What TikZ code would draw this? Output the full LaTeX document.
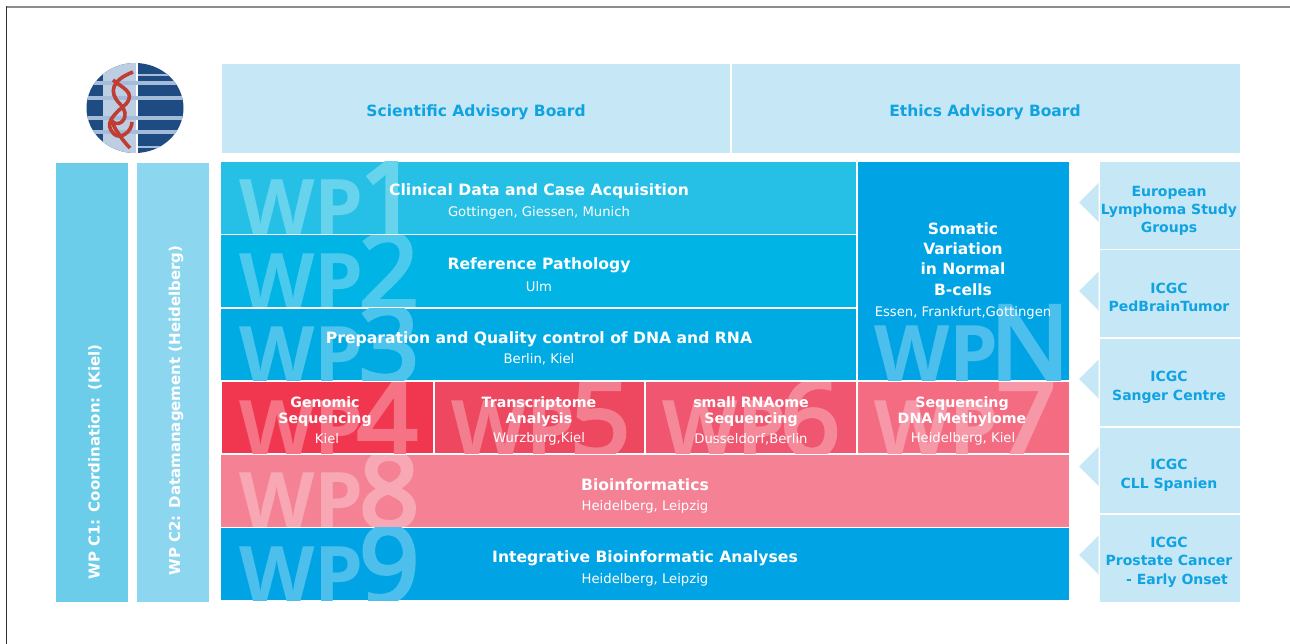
\documentclass[tikz,border=0pt]{standalone}
\usepackage{fontspec}
\setmainfont{DejaVu Sans}
\newfontfamily\wmfont[FakeBold=4]{Open Sans}
\newfontfamily\wpfont{Open Sans}
\definecolor{lb}{HTML}{C5E7F6}
\definecolor{tb}{HTML}{0FA3E2}
\definecolor{cA}{HTML}{6CCDEA}
\definecolor{cB}{HTML}{8DD6EF}
\definecolor{w1}{HTML}{26C0E6}
\definecolor{w2}{HTML}{00B4E5}
\definecolor{w3}{HTML}{00ABE4}
\definecolor{wN}{HTML}{00A4E4}
\definecolor{w4}{HTML}{F1374F}
\definecolor{w5}{HTML}{EE4760}
\definecolor{w6}{HTML}{F0566F}
\definecolor{w7}{HTML}{F46C82}
\definecolor{w8}{HTML}{F48294}
\definecolor{w9}{HTML}{00A4E4}
\definecolor{gd}{HTML}{1D4B82}
\definecolor{gs}{HTML}{A4BBDA}
\definecolor{gp}{HTML}{BDCDE2}
\definecolor{gr}{HTML}{BF3D33}
\tikzset{
  x=1pt,y=-1pt,
  ttl/.style={text=white,font=\fontsize{15.6}{18}\selectfont\bfseries,align=center,inner sep=0pt},
  ttlfour/.style={text=white,font=\fontsize{14.2}{16}\selectfont\bfseries,align=center,inner sep=0pt},
  sub/.style={text=white,font=\fontsize{13.2}{15}\selectfont,align=center,inner sep=0pt},
  ext/.style={text=tb,font=\fontsize{14}{18}\selectfont\bfseries,align=center,inner sep=0pt},
  adv/.style={text=tb,font=\fontsize{15.5}{18}\selectfont\bfseries,inner sep=0pt},
  vert/.style={text=white,font=\fontsize{15}{18}\selectfont\bfseries,rotate=90,inner sep=0pt},
  mark wp/.style={text=wmc,font=\wpfont\bfseries\fontsize{78}{78}\selectfont,inner sep=0pt,anchor=base west},
  mark dg/.style={text=wmc,font=\wmfont\fontsize{105}{105}\selectfont,inner sep=0pt,anchor=base west},
}
\newcommand{\wmtint}[1]{\colorlet{wmc}{white!30!#1}}
\newcommand{\wm}[9]{% x0 y0 x1 y1 wpx wpy word dgx digit
  \begin{scope}
    \clip (#1,#2) rectangle (#3,#4);
    \node[mark wp] (wm#9) at (#5,#6) {#7};
    \node[mark dg] (wd#9) at (#8,#6) {#9};
  \end{scope}
}
\begin{document}
\begin{tikzpicture}
\useasboundingbox (0,0) rectangle (1290,644);
\fill[white] (0,0) rectangle (1290,644);
\draw[black!45,line width=1.5pt] (6,7) -- (1290,7);
\draw[black!80,line width=1.2pt] (6.6,6.5) -- (6.6,644);
% logo
\begin{scope}
  \clip (135,108) ellipse (48.5 and 45);
  \fill[gd] (85,60) rectangle (190,156);
  \fill[gp] (103,60) rectangle (136,156);
  \fill[white] (136,60) rectangle (137.5,156);
  \foreach \yy in {83,98,118,132}{\fill[gs] (85,\yy-1.8) rectangle (190,\yy+1.8);}
  \foreach \yy in {75,147}{\fill[gs] (137.5,\yy-1.2) rectangle (190,\yy+1.2);}
\end{scope}
\draw[gr,line width=3.6pt] (133,72) .. controls (112,80) and (108,92) .. (120,104) .. controls (132,116) and (120,128) .. (113,122) .. controls (108,116) and (118,136) .. (130,148);
\draw[gr,line width=3.6pt] (113,80) .. controls (122,88) and (136,92) .. (126,104) .. controls (112,116) and (104,124) .. (114,134) .. controls (120,140) and (132,132) .. (132,122);
% advisory
\fill[lb] (222,64) rectangle (730,153);
\fill[lb] (732,64) rectangle (1240,153);
\node[adv] (sab) at (476,112) {Scientific Advisory Board};
\node[adv] (eab) at (985,112) {Ethics Advisory Board};
% vertical
\fill[cA] (56,163) rectangle (128,601.7);
\fill[cB] (137,163) rectangle (209,601.7);
\node[vert] (c1) at (95,462) {WP C1: Coordination: (Kiel)};
\node[vert] (c2) at (176,410.5) {WP C2: Datamanagement (Heidelberg)};
% main boxes
\fill[w1] (221,162) rectangle (856,234);
\fill[w2] (221,235.5) rectangle (856,306.7);
\fill[w3] (221,308.7) rectangle (856,380);
\fill[wN] (858,162) rectangle (1069,380);
\fill[w4] (222,382) rectangle (432.7,453);
\fill[w5] (435,382) rectangle (644,453);
\fill[w6] (646,382) rectangle (856,453);
\fill[w7] (858,382) rectangle (1069,453);
\fill[w8] (221,455) rectangle (1069,526.7);
\fill[w9] (221,527.7) rectangle (1069,600);
% watermarks
\wmtint{w1}\wm{221}{162}{856}{234}{239}{236}{WP}{359}{1}
\wmtint{w2}\wm{221}{235.5}{856}{306.7}{239}{309}{WP}{359}{2}
\wmtint{w3}\wm{221}{308.7}{856}{380}{239}{382}{WP}{359}{3}
\wmtint{w4}\wm{222}{382}{432.7}{453}{239}{456}{WP}{357}{4}
\wmtint{w5}\wm{435}{382}{644}{453}{451}{456}{WP}{570}{5}
\wmtint{w6}\wm{646}{382}{856}{453}{662}{456}{WP}{780}{6}
\wmtint{w7}\wm{858}{382}{1069}{453}{874}{456}{WP}{996}{7}
\wmtint{w8}\wm{221}{455}{1069}{526.7}{239}{528}{WP}{359}{8}
\wmtint{w9}\wm{221}{527.7}{1069}{600}{239}{602}{WP}{359}{9}
\wmtint{wN}\wm{858}{162}{1069}{380}{874}{381}{WP}{990}{N}
% labels
\node[ttl] (t1) at (539,191) {Clinical Data and Case Acquisition};
\node[sub] (s1) at (539,212.5) {Gottingen, Giessen, Munich};
\node[ttl] (t2) at (539,265) {Reference Pathology};
\node[sub] (s2) at (539,286.5) {Ulm};
\node[ttl] (t3) at (539,339) {Preparation and Quality control of DNA and RNA};
\node[sub] (s3) at (539,359.5) {Berlin, Kiel};
\node[ttl,font=\fontsize{15.5}{20.4}\selectfont\bfseries] (tn) at (963,259) {Somatic\\Variation\\in Normal\\B-cells};
\node[sub] (sn) at (963,312.5) {Essen, Frankfurt,Gottingen};
\node[ttlfour] (t4) at (325,412) {Genomic\\Sequencing};
\node[sub] (s4) at (327,439) {Kiel};
\node[ttlfour] (t5) at (539,412) {Transcriptome\\Analysis};
\node[sub] (s5) at (539,439) {Wurzburg,Kiel};
\node[ttlfour] (t6) at (751,412) {small RNAome\\Sequencing};
\node[sub] (s6) at (751,439) {Dusseldorf,Berlin};
\node[ttlfour] (t7) at (962,412) {Sequencing\\DNA Methylome};
\node[sub] (s7) at (963,439) {Heidelberg, Kiel};
\node[ttl] (t8) at (645,485) {Bioinformatics};
\node[sub] (s8) at (645,506.5) {Heidelberg, Leipzig};
\node[ttl] (t9) at (645,558) {Integrative Bioinformatic Analyses};
\node[sub] (s9) at (645,579.5) {Heidelberg, Leipzig};
% right column
\fill[lb] (1100,162) rectangle (1240,249);
\fill[lb] (1100,250) rectangle (1240,336.7);
\fill[lb] (1100,339) rectangle (1240,426);
\fill[lb] (1100,427.5) rectangle (1240,513.3);
\fill[lb] (1100,515) rectangle (1240,601.7);
\foreach \yy in {202.5,291,379,466.5,555}{\fill[lb] (1098.5,\yy-19.3) -- (1098.5,\yy+19.3) -- (1079,\yy) -- cycle;}
\node[ext] (e1) at (1169,211) {European\\Lymphoma Study\\Groups};
\node[ext] (e2) at (1169,297) {ICGC\\PedBrainTumor};
\node[ext,font=\fontsize{14}{19}\selectfont\bfseries] (e3) at (1169,387) {ICGC\\Sanger Centre};
\node[ext,font=\fontsize{14}{19}\selectfont\bfseries] (e4) at (1169,475) {ICGC\\CLL Spanien};
\node[ext,font=\fontsize{14}{18.5}\selectfont\bfseries] (e5) at (1169,562) {ICGC\\Prostate Cancer\hspace*{4pt}\\\hspace*{16pt}- Early Onset};
\end{tikzpicture}
\end{document}
